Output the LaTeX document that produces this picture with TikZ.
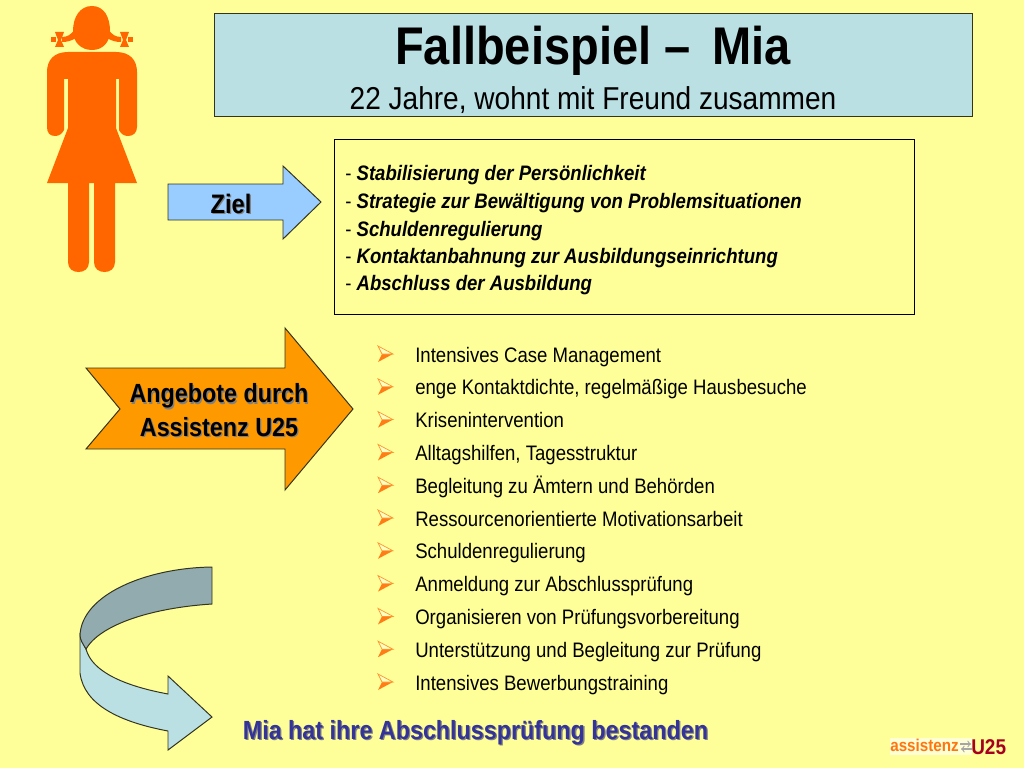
\documentclass[tikz,border=0pt]{standalone}
\usepackage{fontspec}
\setmainfont[FakeStretch=0.887]{Liberation Sans}
\usepackage{xcolor}
\usepackage{tikz}
\definecolor{paper}{HTML}{FFFF99}
\definecolor{titlefill}{HTML}{BBE0E3}
\definecolor{zielfill}{HTML}{99CCFF}
\definecolor{angebotfill}{HTML}{FF9900}
\definecolor{figurefill}{HTML}{FF6600}
\definecolor{ribbondark}{HTML}{91ABAE}
\definecolor{navy}{HTML}{333399}
\definecolor{logored}{HTML}{A50021}
\newcommand{\shadowtxt}[2][gray]{\leavevmode\rlap{\kern0.9pt\raisebox{-0.9pt}{\textcolor{#1}{#2}}}#2}
\newcommand{\goaltxt}[1]{{\bfseries\itshape #1}}
\tikzset{
  arrowshape/.style={draw=black!80!paper, line width=0.7pt},
  listlabel/.style={anchor=base west, inner sep=0pt, font=\fontsize{14.9}{16}\selectfont},
  goallabel/.style={anchor=base west, inner sep=0pt, font=\fontsize{14.9}{16}\selectfont},
}
\begin{document}
\begin{tikzpicture}[x=0.025cm,y=-0.025cm]
\useasboundingbox[fill=paper] (0,0) rectangle (1024,768);
%%The figure is drawn first.
\fill[figurefill] (92,6) .. controls (80,6) and (73,17) .. (73,31) .. controls (73,42) and (81,50) .. (92,50) .. controls (103,50) and (110,42) .. (110,31) .. controls (110,17) and (104,6) .. (92,6) -- cycle; % Head
\fill[figurefill] (75,29) .. controls (71,35) and (67,37) .. (62,37) -- (62,42) .. controls (67,42) and (71,41) .. (76,38) -- cycle; % Left plait
\fill[figurefill] (108,29) .. controls (112,35) and (116,37) .. (121,37) -- (121,42) .. controls (116,42) and (112,41) .. (107,38) -- cycle; % Right plait
\fill[figurefill] (55,32) -- (64,32) -- (61,40) -- (64,47) -- (55,47) -- (58,40) -- cycle; % Left bow
\fill[figurefill] (51,37) rectangle (56,42);
\fill[figurefill] (120,32) -- (129,32) -- (126,40) -- (129,47) -- (120,47) -- (123,40) -- cycle; % Right bow
\fill[figurefill] (128,37) rectangle (133,42);
\fill[figurefill] (68,52) -- (116,52) .. controls (130,52) and (137,60) .. (137,72) -- (137,127) .. controls (137,133) and (133,136) .. (128,136) .. controls (124,136) and (121,134) .. (119,130) -- (119,79) -- (116,79) -- (116,128) -- (137,183) -- (115,183) -- (115,262) .. controls (115,269) and (110,272) .. (104.500,272) .. controls (99,272) and (94,269) .. (94,262) -- (94,183) -- (89,183) -- (89,262) .. controls (89,269) and (84,272) .. (78.500,272) .. controls (73,272) and (68,269) .. (68,262) -- (68,183) -- (47,183) -- (68,128) -- (68,79) -- (64,79) -- (64,130) .. controls (62,134) and (59,136) .. (55,136) .. controls (50,136) and (47,133) .. (47,127) -- (47,72) .. controls (47,60) and (54,52) .. (68,52) -- cycle; % Body
%%The title box.
\node[draw=black!80!paper, fill=titlefill, line width=0.7pt, minimum width=758.500*0.025cm, minimum height=103*0.025cm, anchor=north west, inner sep=0pt] (titlebox) at (213.500,12.800) {};
\node[inner sep=0pt, anchor=base, font=\fontsize{37.700}{40}\selectfont\bfseries] (titletext) at (593,65) {Fallbeispiel --\, Mia};
\node[inner sep=0pt, anchor=base, font=\fontsize{22.500}{26}\selectfont] (subtitle) at (593,110) {22 Jahre, wohnt mit Freund zusammen};
%%The goal arrow and its box.
\draw[arrowshape, fill=zielfill] (168,184) -- (283,184) -- (283,166) -- (321,202) -- (283,239) -- (283,220) -- (168,220) -- cycle;
\node[inner sep=0pt, anchor=base, font=\fontsize{19}{20}\selectfont\bfseries] (ziel) at (231,213) {\shadowtxt{Ziel}};
\node[draw=black, line width=0.7pt, minimum width=580*0.025cm, minimum height=175*0.025cm, anchor=north west, inner sep=0pt] (goalbox) at (334,139) {};
\foreach \y/\name/\txt in {181/goala/Stabilisierung der Persönlichkeit,
  208.500/goalb/Strategie zur Bewältigung von Problemsituationen,
  236/goalc/Schuldenregulierung,
  263/goald/Kontaktanbahnung zur Ausbildungseinrichtung,
  290/goale/Abschluss der Ausbildung}
  \node[goallabel] (\name) at (345,\y) {- \goaltxt{\txt}};
%%The offers arrow.
\draw[arrowshape, fill=angebotfill] (86,368) -- (285,368) -- (285,328) -- (353,409) -- (285,490) -- (285,449) -- (86,449) -- (120,409) -- cycle;
\node[inner sep=0pt, align=center, font=\fontsize{18.700}{24}\selectfont\bfseries] (angebot) at (219,411) {\shadowtxt{Angebote durch}\\\shadowtxt{Assistenz U25}};
%%The list with its arrow bullets.
\foreach \i/\txt in {0/Intensives Case Management,
  1/{enge Kontaktdichte, regelmäßige Hausbesuche},
  2/Krisenintervention,
  3/{Alltagshilfen, Tagesstruktur},
  4/Begleitung zu Ämtern und Behörden,
  5/Ressourcenorientierte Motivationsarbeit,
  6/Schuldenregulierung,
  7/Anmeldung zur Abschlussprüfung,
  8/Organisieren von Prüfungsvorbereitung,
  9/Unterstützung und Begleitung zur Prüfung,
  10/Intensives Bewerbungstraining}
{
  \pgfmathsetmacro{\yy}{354+32.8*\i}
  \fill[figurefill!85!paper] (378,\yy+8) -- (393,\yy) -- (382,\yy) -- cycle; % Bullet (lower half)
  \draw[figurefill!70!paper, line width=0.5pt, fill=paper!60!white] (378,\yy-8) -- (393,\yy) -- (382,\yy) -- cycle; % Bullet (upper half)
  \node[listlabel] (item\i) at (415,\yy+8) {\txt};
}
%%The ribbon arrow.
\draw[arrowshape, fill=titlefill] (80,635) -- (80,673) .. controls (84,705) and (120,722) .. (168,731) -- (168,750) -- (212,717) -- (168,676) -- (168,694) .. controls (125,686) and (92,672) .. (86,649) -- cycle;
\draw[arrowshape, fill=ribbondark] (212,567) -- (212,604) .. controls (150,608) and (100,625) .. (86,649) .. controls (83,644) and (80,640) .. (80,635) .. controls (82,595) and (145,568) .. (212,567) -- cycle;
\node[inner sep=0pt, text=navy, anchor=base, font=\fontsize{18.700}{20}\selectfont\bfseries] (result) at (475.500,739) {\shadowtxt{Mia hat ihre Abschlussprüfung bestanden}};
%%The logo at the corner.
\fill[white, opacity=0.6] (890,738) rectangle (972,755);
\node[inner sep=0pt, anchor=base west, text=figurefill!90!paper, font=\fontsize{12.200}{12}\selectfont\bfseries] (logotext) at (890,751) {assistenz};
\node[inner sep=0pt, anchor=base west, text=logored, font=\fontsize{15.200}{18}\selectfont\bfseries] (logou) at (971,754) {U25};
\draw[gray!70, line width=0.8pt, ->] (960,744) -- (971,744);
\draw[gray!70, line width=0.8pt, <-] (961,749) -- (972,749);
\end{tikzpicture}
\end{document}
